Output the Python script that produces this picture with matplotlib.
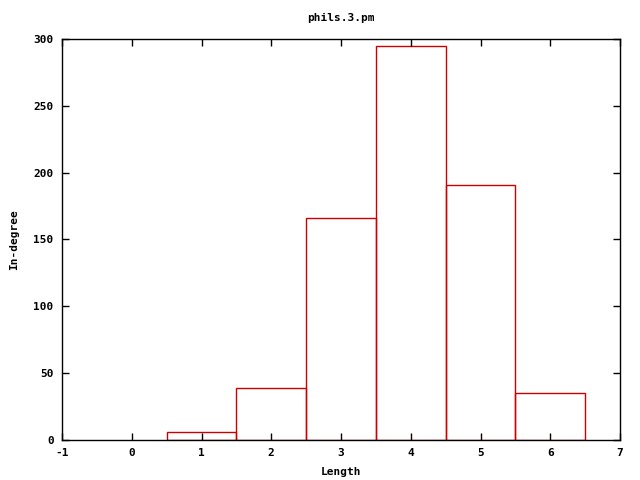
import matplotlib
matplotlib.use("Agg")
import matplotlib.pyplot as plt

# histogram data
lengths = [1, 2, 3, 4, 5, 6]
in_degree = [6, 39, 166, 295, 191, 35]

plt.rcParams['font.family'] = 'DejaVu Sans Mono'
plt.rcParams['font.weight'] = 'bold'
plt.rcParams['font.size'] = 8
plt.rcParams['axes.unicode_minus'] = False

fig = plt.figure(figsize=(6.4, 4.8), dpi=100)
ax = fig.add_axes([62/640, 40/480, 558/640, 401/480])

ax.bar(lengths, in_degree, width=1.0, fill=False, edgecolor='#cc0000', linewidth=1)

ax.set_xlim(-1, 7)
ax.set_ylim(0, 300)
ax.set_xticks(range(-1, 8))
ax.set_yticks(range(0, 301, 50))
ax.tick_params(direction='in', top=True, right=True, length=5, width=1, pad=6)
for s in ax.spines.values():
    s.set_linewidth(1)

ax.set_xlabel('Length', fontweight='bold', labelpad=6)
ax.set_ylabel('In-degree', fontweight='bold', labelpad=10)
ax.set_title('phils.3.pm', fontweight='bold', fontsize=8, pad=13)

fig.savefig('out.png', dpi=100)
